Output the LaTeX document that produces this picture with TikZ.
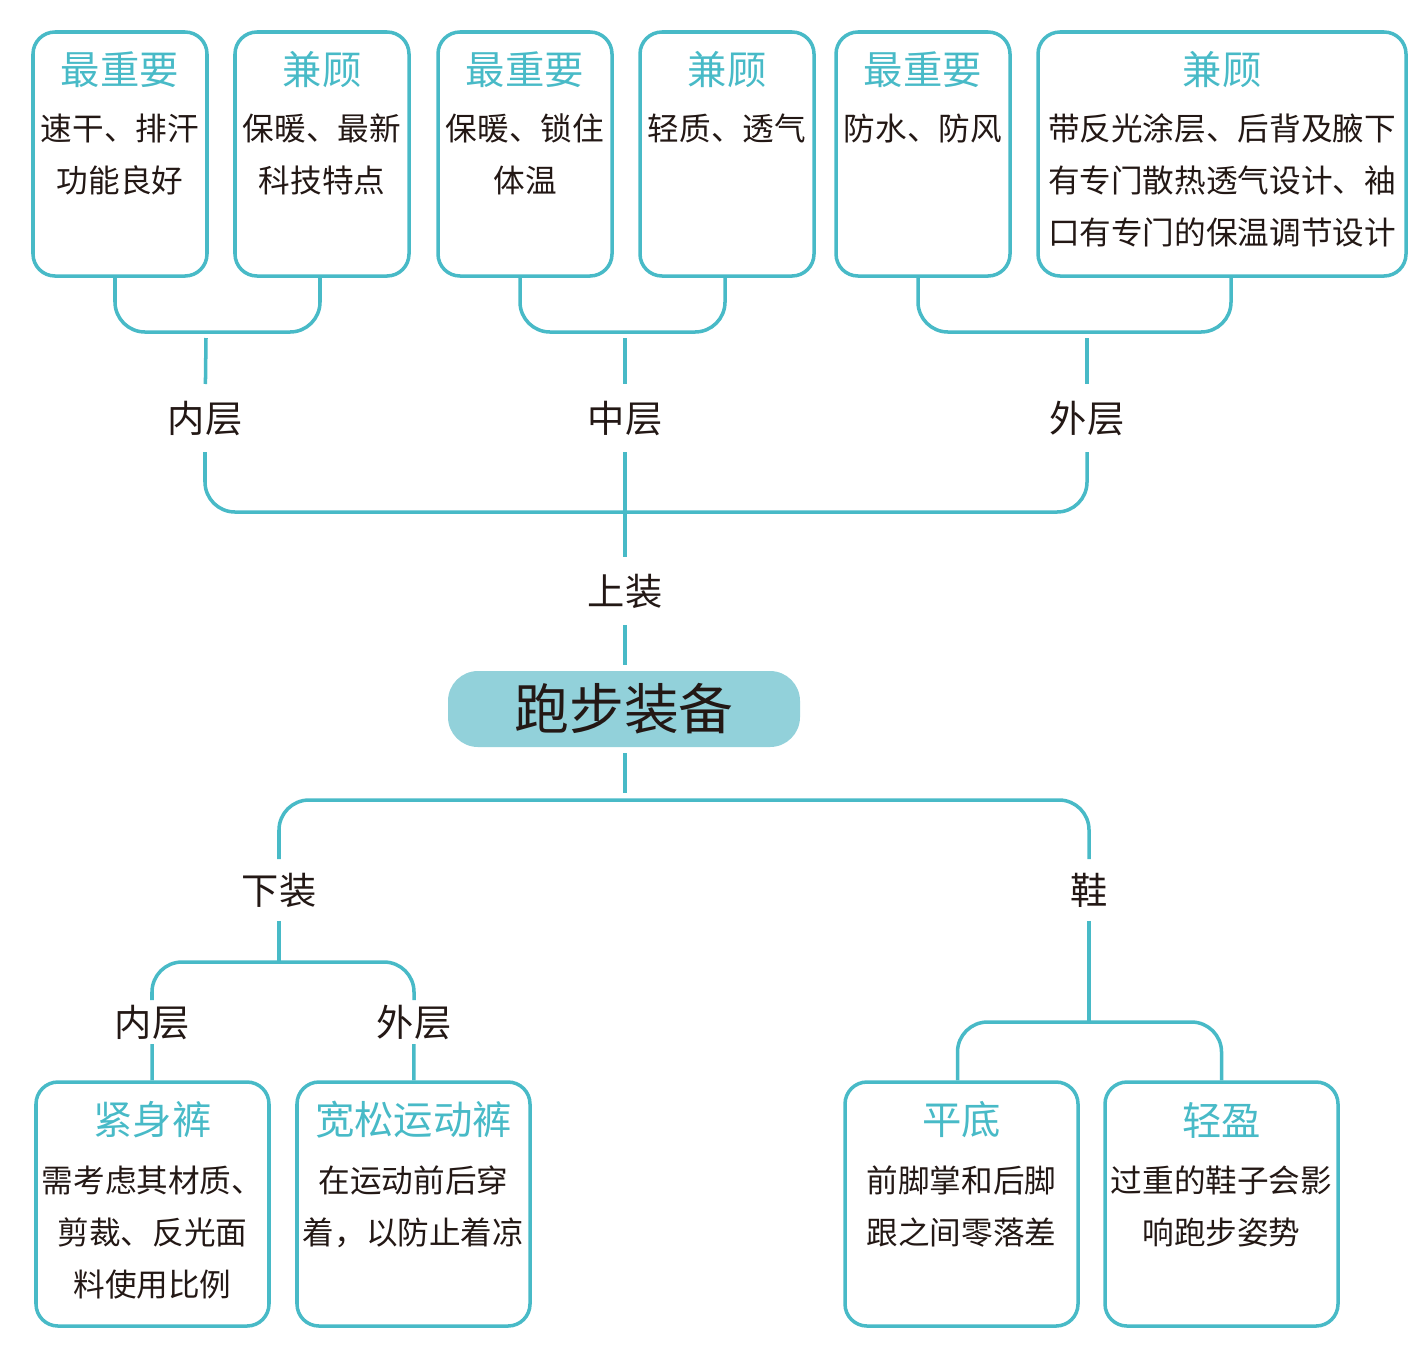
\documentclass[tikz,border=0pt]{standalone}
\usepackage{fontspec}
\setmainfont{Noto Sans CJK SC}
\usetikzlibrary{calc}
\definecolor{teal1}{HTML}{48BAC7}
\definecolor{tealfill}{HTML}{92D1DA}
\definecolor{ink}{HTML}{231815}

\begin{document}
\begin{tikzpicture}[
  box/.style={draw=teal1, line width=1pt, rounded corners=0.22cm, minimum height=2.44cm},
  head/.style={text=teal1, font=\fontsize{11.2}{13}\selectfont, inner sep=0pt},
  body/.style={text=ink, font=\fontsize{9}{14.8}\selectfont, align=center, anchor=north, inner sep=0pt},
  lbl/.style={text=ink, font=\fontsize{10.6}{12}\selectfont, inner sep=0.16cm},
  link/.style={draw=teal1, line width=1pt, rounded corners=0.3cm},
]
  \useasboundingbox (0,0) rectangle (14.27,-13.68);

  \node[box, minimum width=1.74cm] (b1) at (1.20,-1.54) {};
  \node[box, minimum width=1.74cm] (b2) at (3.22,-1.54) {};
  \node[box, minimum width=1.74cm] (b3) at (5.25,-1.54) {};
  \node[box, minimum width=1.74cm] (b4) at (7.27,-1.54) {};
  \node[box, minimum width=1.74cm] (b5) at (9.23,-1.54) {};
  \node[box, minimum width=3.68cm] (b6) at (12.22,-1.54) {};
  \node[head] (h1) at (1.20,-0.70) {最重要};
  \node[head] (h2) at (3.22,-0.70) {兼顾};
  \node[head] (h3) at (5.25,-0.70) {最重要};
  \node[head] (h4) at (7.27,-0.70) {兼顾};
  \node[head] (h5) at (9.23,-0.70) {最重要};
  \node[head] (h6) at (12.22,-0.70) {兼顾};
  \node[body] (t1) at (1.20,-1.13) {速干、排汗\\功能良好};
  \node[body] (t2) at (3.22,-1.13) {保暖、最新\\科技特点};
  \node[body] (t3) at (5.25,-1.13) {保暖、锁住\\体温};
  \node[body] (t4) at (7.27,-1.13) {轻质、透气};
  \node[body] (t5) at (9.23,-1.13) {防水、防风};
  \node[body] (t6) at (12.22,-1.13) {带反光涂层、后背及腋下\\有专门散热透气设计、袖\\口有专门的保温调节设计};

  \node[lbl] (L1) at (2.05,-4.18) {内层};
  \node[lbl] (L2) at (6.25,-4.18) {中层};
  \node[lbl] (L3) at (10.87,-4.18) {外层};
  \node[lbl] (top) at (6.25,-5.91) {上装};
  \node[fill=tealfill, rounded corners=0.3cm, minimum width=3.52cm, minimum height=0.76cm,
        outer sep=0.06cm, text=ink, font=\fontsize{15.6}{18}\selectfont] (root) at (6.24,-7.09) {跑步装备};
  \node[lbl, inner sep=0.13cm] (pants) at (2.79,-8.90) {下装};
  \node[lbl, inner sep=0.13cm] (shoes) at (10.89,-8.90) {鞋};
  \node[lbl, inner sep=0.04cm] (in2) at (1.52,-10.22) {内层};
  \node[lbl, inner sep=0.04cm] (out2) at (4.14,-10.22) {外层};

  \node[box, minimum width=2.33cm] (a1) at (1.525,-12.04) {};
  \node[box, minimum width=2.33cm] (a2) at (4.135,-12.04) {};
  \node[box, minimum width=2.33cm] (a3) at (9.615,-12.04) {};
  \node[box, minimum width=2.33cm] (a4) at (12.215,-12.04) {};
  \node[head] (k1) at (1.525,-11.20) {紧身裤};
  \node[head] (k2) at (4.135,-11.20) {宽松运动裤};
  \node[head] (k3) at (9.615,-11.20) {平底};
  \node[head] (k4) at (12.215,-11.20) {轻盈};
  \node[body] (u1) at (1.525,-11.65) {需考虑其材质、\\剪裁、反光面\\料使用比例};
  \node[body] (u2) at (4.135,-11.65) {在运动前后穿\\着，以防止着凉};
  \node[body] (u3) at (9.615,-11.65) {前脚掌和后脚\\跟之间零落差};
  \node[body] (u4) at (12.215,-11.65) {过重的鞋子会影\\响跑步姿势};

  \coordinate (j1) at (2.06,-3.32);
  \coordinate (j2) at (6.25,-3.32);
  \coordinate (j3) at (10.87,-3.32);
  \coordinate (s1) at (2.06,-3.38);
  \coordinate (s2) at (6.25,-3.38);
  \coordinate (s3) at (10.87,-3.38);
  \coordinate (cu) at (6.25,-5.12);
  \coordinate (rs) at (6.25,-7.93);
  \coordinate (sp) at (6.25,-8.00);
  \coordinate (pj) at (2.79,-9.62);
  \coordinate (sh) at (10.89,-10.22);

  \draw[link] ([xshift=-0.05cm]b1.south) |- (j1) -| ([xshift=-0.02cm]b2.south);
  \draw[link] ([xshift=-0.05cm]b3.south) |- (j2) -| ([xshift=-0.02cm]b4.south);
  \draw[link] ([xshift=-0.05cm]b5.south) |- (j3) -| ([xshift=0.09cm]b6.south);
  \draw[link] (s1) -- (L1);
  \draw[link] (s2) -- (L2);
  \draw[link] (s3) -- (L3);
  \draw[link] (L1) |- (cu) -| (L3);
  \draw[link] (L2) -- (top);
  \draw[link] (top) -- (top |- root.north);
  \draw[link] (top |- root.south) -- (rs);
  \draw[link] (pants) |- (sp) -| (shoes);
  \draw[link] (pants) -- (pj);
  \draw[link] (in2) |- (pj) -| (out2);
  \draw[link] (in2) -- (a1);
  \draw[link] (out2) -- (a2);
  \draw[link] (shoes) -- (sh);
  \draw[link] ([xshift=-0.04cm]a3.north) |- (sh) -| (a4.north);
\end{tikzpicture}
\end{document}
